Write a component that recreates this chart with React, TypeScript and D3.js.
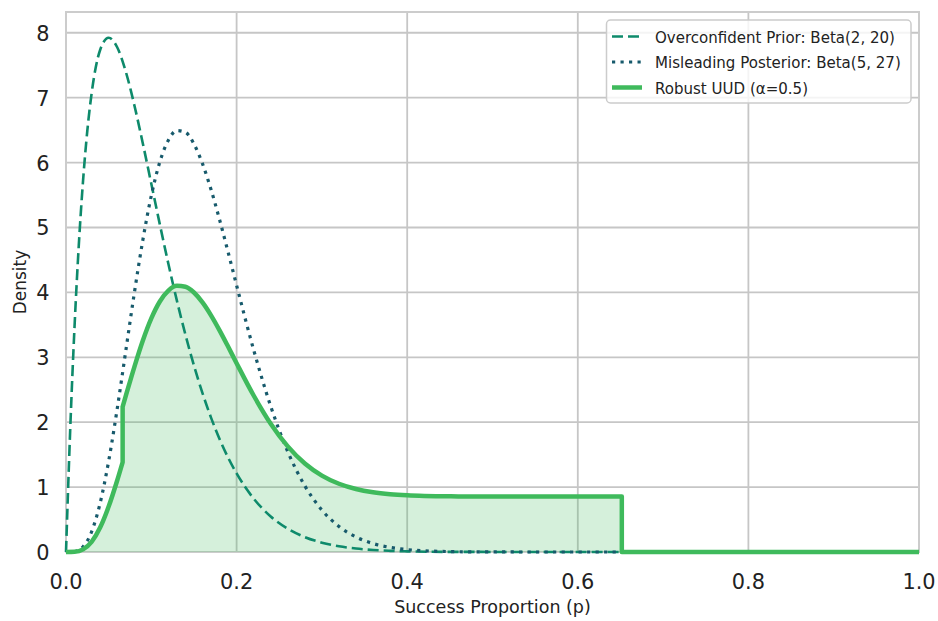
import React from "react";
import * as d3 from "d3";

// ---- data ----
const xTicks = [0, 0.2, 0.4, 0.6, 0.8, 1.0];
const yTicks = [0, 1, 2, 3, 4, 5, 6, 7, 8];

const priorP = [0, 0.005, 0.01, 0.015, 0.02, 0.025, 0.03, 0.04, 0.05, 0.06, 0.07, 0.08, 0.09, 0.10, 0.11, 0.12, 0.13, 0.14, 0.15, 0.16, 0.17, 0.18, 0.19, 0.20, 0.22, 0.24, 0.26, 0.28, 0.30, 0.32, 0.34, 0.36, 0.38, 0.40, 0.45, 0.50, 0.60, 0.70, 0.80, 0.90, 1.00];
const priorDensity = [0, 1.909, 3.470, 4.727, 5.722, 6.491, 7.064, 7.735, 7.924, 7.777, 7.405, 6.892, 6.299, 5.674, 5.048, 4.442, 3.873, 3.349, 2.873, 2.448, 2.071, 1.742, 1.456, 1.211, 0.823, 0.548, 0.358, 0.229, 0.144, 0.088, 0.053, 0.031, 0.018, 0.010, 0.002, 0.001, 0, 0, 0, 0, 0];

const postP = [0, 0.01, 0.02, 0.03, 0.04, 0.05, 0.06, 0.07, 0.08, 0.09, 0.10, 0.11, 0.12, 0.13, 0.14, 0.15, 0.16, 0.17, 0.18, 0.19, 0.20, 0.22, 0.24, 0.26, 0.28, 0.30, 0.32, 0.34, 0.36, 0.38, 0.40, 0.42, 0.44, 0.46, 0.48, 0.50, 0.60, 0.70, 0.80, 0.90, 1.00];
const postDensity = [0, 0.0065, 0.0804, 0.3117, 0.7525, 1.3992, 2.2036, 3.0913, 3.9814, 4.8000, 5.4891, 6.0105, 6.3456, 6.4934, 6.4665, 6.2872, 5.9833, 5.5850, 5.1221, 4.6219, 4.1082, 3.1142, 2.2449, 1.5457, 1.0197, 0.6460, 0.3936, 0.2308, 0.1303, 0.0709, 0.0371, 0.0187, 0.0090, 0.0042, 0.0019, 0.0008, 0, 0, 0, 0, 0];

const uudP = [0, 0.01, 0.02, 0.03, 0.04, 0.05, 0.06, 0.0664, 0.0664, 0.07, 0.08, 0.09, 0.10, 0.11, 0.12, 0.13, 0.14, 0.15, 0.16, 0.17, 0.18, 0.19, 0.20, 0.22, 0.24, 0.26, 0.28, 0.30, 0.32, 0.34, 0.36, 0.38, 0.40, 0.42, 0.44, 0.46, 0.48, 0.50, 0.55, 0.60, 0.6516, 0.6516, 0.70, 0.80, 0.90, 1.00];
const uudDensity = [0, 0.0033, 0.0402, 0.1559, 0.3762, 0.6996, 1.1018, 1.3836, 2.2380, 2.4001, 2.8451, 3.2544, 3.5990, 3.8596, 4.0272, 4.1011, 4.0876, 3.9980, 3.8460, 3.6469, 3.4155, 3.1654, 2.9085, 2.4115, 1.9769, 1.6272, 1.3643, 1.1774, 1.0512, 0.9698, 0.9196, 0.8898, 0.8730, 0.8637, 0.8589, 0.8565, 0.8553, 0.8548, 0.8544, 0.8544, 0.8544, 0, 0, 0, 0, 0];

const seriesLabels = ["Overconfident Prior: Beta(2, 20)", "Misleading Posterior: Beta(5, 27)", "Robust UUD (α=0.5)"];

const W = 938, H = 621;
const L = 66, R = 919, T = 12, B = 552;
const FONT = "DejaVu Sans";
const C_PRIOR = "#0e8a6b";
const C_POST = "#175a6c";
const C_UUD = "#3fba5c";

type Pt = [number, number];

export default function App() {
  const x = d3.scaleLinear().domain([0, 1]).range([L, R]);
  const y = d3.scaleLinear().domain([0, 8.32]).range([B, T]);

  const line = d3.line<Pt>().x(d => x(d[0])).y(d => y(d[1])).curve(d3.curveMonotoneX);

  const prior: Pt[] = priorP.map((p, i) => [p, priorDensity[i]]);
  const post: Pt[] = postP.map((p, i) => [p, postDensity[i]]);

  // split UUD at jumps (repeated p) so each smooth piece is drawn with a monotone curve
  const segs: Pt[][] = [[]];
  uudP.forEach((p, i) => {
    const cur = segs[segs.length - 1];
    if (cur.length && cur[cur.length - 1][0] === p) segs.push([]);
    segs[segs.length - 1].push([p, uudDensity[i]]);
  });
  const uudPath = segs.map((s, i) => { const d = line(s) || ""; return i === 0 ? d : d.replace(/^M/, "L"); }).join("");
  const fillPath = uudPath + `L${x(1)},${y(0)}L${x(0)},${y(0)}Z`;

  const legX = 606.5, legY = 20, legW = 304.5, legH = 83;
  const rows = [36.5, 62, 87.5];

  return (
    <svg width={W} height={H} style={{ position: "absolute", left: 0, top: 0, background: "#fff" }} fontFamily={FONT}>
      <rect x={0} y={0} width={W} height={H} fill="#fff" />
      {/* grid */}
      <g stroke="#c6c6c6" strokeWidth={1.8}>
        {xTicks.map(t => <line key={"gx" + t} x1={x(t)} x2={x(t)} y1={T} y2={B} />)}
        {yTicks.map(t => <line key={"gy" + t} x1={L} x2={R} y1={y(t)} y2={y(t)} />)}
      </g>
      <rect x={L} y={T} width={R - L} height={B - T} fill="none" stroke="#cccccc" strokeWidth={2} />

      {/* UUD fill */}
      <path d={fillPath} fill={C_UUD} fillOpacity={0.22} stroke="none" />
      {/* prior & posterior */}
      <path d={line(prior) || ""} fill="none" stroke={C_PRIOR} strokeWidth={2.6} strokeDasharray="11,5" />
      <path d={line(post) || ""} fill="none" stroke={C_POST} strokeWidth={3.2} strokeDasharray="3.2,5.3" />
      {/* UUD line */}
      <path d={uudPath} fill="none" stroke={C_UUD} strokeWidth={4.5} strokeLinejoin="round" />

      {/* ticks */}
      <g fontSize={22} fill="#222">
        {xTicks.map(t => (
          <text key={"tx" + t} transform={`translate(${x(t)},589) scale(0.95,1)`} textAnchor="middle">{t.toFixed(1)}</text>
        ))}
        {yTicks.map(t => (
          <text key={"ty" + t} transform={`translate(49.5,${y(t) + 8}) scale(0.95,1)`} textAnchor="end">{t}</text>
        ))}
      </g>
      <text x={(L + R) / 2} y={613} fontSize={17.5} textAnchor="middle" fill="#222">Success Proportion (p)</text>
      <text transform={`translate(26,${(T + B) / 2}) rotate(-90)`} fontSize={17} textAnchor="middle" fill="#222">Density</text>

      {/* legend */}
      <rect x={legX} y={legY} width={legW} height={legH} rx={4} fill="#fff" fillOpacity={0.8} stroke="#cccccc" strokeWidth={1.5} />
      <line x1={612} x2={642} y1={rows[0]} y2={rows[0]} stroke={C_PRIOR} strokeWidth={2.6} strokeDasharray="11,5" />
      <line x1={612} x2={642} y1={rows[1]} y2={rows[1]} stroke={C_POST} strokeWidth={3.2} strokeDasharray="3.2,5.3" />
      <line x1={612} x2={642} y1={rows[2]} y2={rows[2]} stroke={C_UUD} strokeWidth={4.5} />
      {seriesLabels.map((s, i) => (
        <text key={s} transform={`translate(655,${rows[i] + 6}) scale(0.94,1)`} fontSize={16} fill="#222">{s}</text>
      ))}
    </svg>
  );
}
